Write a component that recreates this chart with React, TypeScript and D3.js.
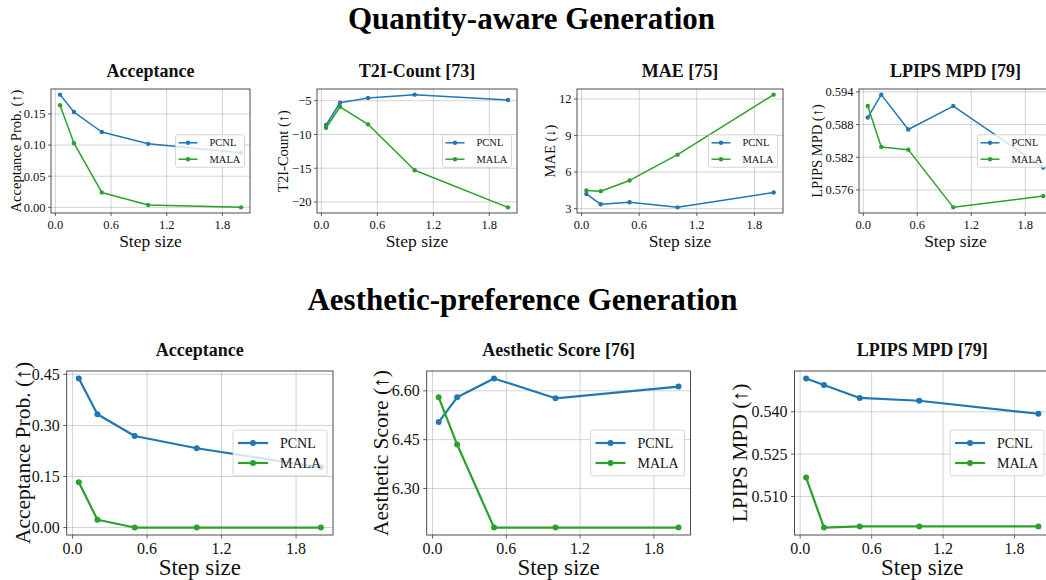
import React from 'react';
import * as d3 from 'd3';

const FONT = '"Liberation Serif", "Times New Roman", Times, serif';
const BLUE = '#1f77b4';
const GREEN = '#2ca02c';

// ---- data ----
const stepSizes = [0.05, 0.2, 0.5, 1.0, 2.0];
const xTicks = [0.0, 0.6, 1.2, 1.8];
const seriesNames = ['PCNL', 'MALA'];

const accQ_PCNL = [0.181, 0.153, 0.121, 0.102, 0.0876];
const accQ_MALA = [0.164, 0.103, 0.024, 0.0037, 0.0];
const accQ_ticks = [0.0, 0.05, 0.1, 0.15];

const t2i_PCNL = [-8.6, -5.3, -4.6, -4.1, -4.9];
const t2i_MALA = [-9.0, -5.9, -8.5, -15.3, -20.8];
const t2i_ticks = [-20, -15, -10, -5];

const mae_PCNL = [4.2, 3.35, 3.52, 3.1, 4.32];
const mae_MALA = [4.49, 4.43, 5.31, 7.43, 12.36];
const mae_ticks = [3, 6, 9, 12];

const lpipsQ_PCNL = [0.5893, 0.5935, 0.5871, 0.5914, 0.5801];
const lpipsQ_MALA = [0.5914, 0.5839, 0.5834, 0.5728, 0.5749];
const lpipsQ_ticks = [0.576, 0.582, 0.588, 0.594];

const accA_PCNL = [0.438, 0.333, 0.269, 0.233, 0.177];
const accA_MALA = [0.133, 0.023, 0.0, 0.0, 0.0];
const accA_ticks = [0.0, 0.15, 0.3, 0.45];

const aes_PCNL = [6.504, 6.58, 6.638, 6.577, 6.613];
const aes_MALA = [6.58, 6.435, 6.18, 6.18, 6.18];
const aes_ticks = [6.3, 6.45, 6.6];

const lpipsA_PCNL = [0.5518, 0.5495, 0.5449, 0.5439, 0.5393];
const lpipsA_MALA = [0.5167, 0.499, 0.4994, 0.4994, 0.4994];
const lpipsA_ticks = [0.51, 0.525, 0.54];

// ---- row styles ----
const topRow = {
  top: 89, bottom: 213, tickFont: 12.5, xLabelFont: 17.5, yLabelFont: 14.5, titleFont: 18,
  lw: 1.5, r: 2.2, tickLen: 3, yTickGap: 5.5, xTickDy: 15.5, xLabelDy: 34, titleDy: -12,
  legend: { font: 10.5, w: 69, h: 32.5, pad: 3, lineLen: 19, gap: 12, rowGap: 16.4, margin: 5.5 },
};
const bottomRow = {
  top: 371, bottom: 535, tickFont: 16, xLabelFont: 23, yLabelFont: 21.5, titleFont: 18,
  lw: 2.2, r: 3, tickLen: 3.5, yTickGap: 7, xTickDy: 18.5, xLabelDy: 40, titleDy: -15,
  legend: { font: 14, w: 94, h: 45.7, pad: 5, lineLen: 30, gap: 12, rowGap: 20, margin: 6 },
};

const panels = [
  { row: topRow, left: 51, right: 250, title: 'Acceptance', ylabel: 'Acceptance Prob. (↑)', ylx: 15.5, s: [accQ_PCNL, accQ_MALA], ticks: accQ_ticks, fmt: '.2f' },
  { row: topRow, left: 317, right: 517, title: 'T2I-Count [73]', ylabel: 'T2I-Count (↑)', ylx: 283, s: [t2i_PCNL, t2i_MALA], ticks: t2i_ticks, fmt: 'd' },
  { row: topRow, left: 577, right: 783, title: 'MAE [75]', ylabel: 'MAE (↓)', ylx: 550, s: [mae_PCNL, mae_MALA], ticks: mae_ticks, fmt: 'd' },
  { row: topRow, left: 859, right: 1052, title: 'LPIPS MPD [79]', ylabel: 'LPIPS MPD (↑)', ylx: 817, s: [lpipsQ_PCNL, lpipsQ_MALA], ticks: lpipsQ_ticks, fmt: '.3f' },
  { row: bottomRow, left: 66.7, right: 333, title: 'Acceptance', ylabel: 'Acceptance Prob. (↑)', ylx: 22, s: [accA_PCNL, accA_MALA], ticks: accA_ticks, fmt: '.2f' },
  { row: bottomRow, left: 426.7, right: 690.5, title: 'Aesthetic Score [76]', ylabel: 'Aesthetic Score (↑)', ylx: 380, s: [aes_PCNL, aes_MALA], ticks: aes_ticks, fmt: '.2f' },
  { row: bottomRow, left: 794.5, right: 1050, title: 'LPIPS MPD [79]', ylabel: 'LPIPS MPD (↑)', ylx: 739, s: [lpipsA_PCNL, lpipsA_MALA], ticks: lpipsA_ticks, fmt: '.3f' },
];

const colors = [BLUE, GREEN];

function padDomain(vals: number[]): [number, number] {
  const [lo, hi] = d3.extent(vals) as [number, number];
  const m = (hi - lo) * 0.05;
  return [lo - m, hi + m];
}

function Panel({ p }: { p: any }) {
  const R = p.row;
  const x = d3.scaleLinear().domain(padDomain(stepSizes)).range([p.left, p.right]);
  const y = d3.scaleLinear().domain(padDomain([...p.s[0], ...p.s[1]])).range([R.bottom, R.top]);
  const fmt = d3.format(p.fmt);
  const line = d3.line<number>().x((_, i) => x(stepSizes[i])).y((d) => y(d));
  const cx = (p.left + p.right) / 2;
  const cy = (R.top + R.bottom) / 2;
  const L = R.legend;
  const lx = p.right - L.margin - L.w;
  const ly = cy - L.h / 2;
  const clipId = `clip-${Math.round(p.left)}`;
  return (
    <g>
      <defs>
        <clipPath id={clipId}>
          <rect x={p.left} y={R.top} width={p.right - p.left} height={R.bottom - R.top} />
        </clipPath>
      </defs>
      {/* grid */}
      <g stroke="#b0b0b0" strokeOpacity={0.7} strokeWidth={0.8}>
        {xTicks.map((t) => (
          <line key={'gx' + t} x1={x(t)} x2={x(t)} y1={R.top} y2={R.bottom} />
        ))}
        {p.ticks.map((t: number) => (
          <line key={'gy' + t} x1={p.left} x2={p.right} y1={y(t)} y2={y(t)} />
        ))}
      </g>
      {/* series */}
      <g clipPath={`url(#${clipId})`}>
        {p.s.map((vals: number[], k: number) => (
          <g key={k}>
            <path d={line(vals) || ''} fill="none" stroke={colors[k]} strokeWidth={R.lw} strokeLinejoin="round" strokeLinecap="round" />
            {vals.map((v, i) => (
              <circle key={i} cx={x(stepSizes[i])} cy={y(v)} r={R.r} fill={colors[k]} />
            ))}
          </g>
        ))}
      </g>
      {/* spines */}
      <rect x={p.left} y={R.top} width={p.right - p.left} height={R.bottom - R.top} fill="none" stroke="#3a3a3a" strokeWidth={0.9} />
      {/* x ticks */}
      {xTicks.map((t) => (
        <g key={'xt' + t}>
          <line x1={x(t)} x2={x(t)} y1={R.bottom} y2={R.bottom + R.tickLen} stroke="#3a3a3a" strokeWidth={0.8} />
          <text x={x(t)} y={R.bottom + R.xTickDy} textAnchor="middle" fontSize={R.tickFont} fontFamily={FONT} fill="#111">
            {d3.format('.1f')(t)}
          </text>
        </g>
      ))}
      {/* y ticks */}
      {p.ticks.map((t: number) => (
        <g key={'yt' + t}>
          <line x1={p.left - R.tickLen} x2={p.left} y1={y(t)} y2={y(t)} stroke="#3a3a3a" strokeWidth={0.8} />
          <text x={p.left - R.yTickGap} y={y(t)} dy="0.35em" textAnchor="end" fontSize={R.tickFont} fontFamily={FONT} fill="#111">
            {fmt(t)}
          </text>
        </g>
      ))}
      {/* labels */}
      <text x={cx} y={R.bottom + R.xLabelDy} textAnchor="middle" fontSize={R.xLabelFont} fontFamily={FONT} fill="#111">
        Step size
      </text>
      <text transform={`translate(${p.ylx},${cy}) rotate(-90)`} dy="0.35em" textAnchor="middle" fontSize={R.yLabelFont} fontFamily={FONT} fill="#111">
        {p.ylabel}
      </text>
      <text x={cx} y={R.top + R.titleDy} textAnchor="middle" fontSize={R.titleFont} fontWeight="bold" fontFamily={FONT} fill="#111">
        {p.title}
      </text>
      {/* legend */}
      <g>
        <rect x={lx} y={ly} width={L.w} height={L.h} rx={2} fill="#fff" fillOpacity={0.8} stroke="#cccccc" strokeWidth={0.8} />
        {seriesNames.map((name, k) => {
          const ry = ly + L.h / 2 + (k - 0.5) * L.rowGap;
          return (
            <g key={name}>
              <line x1={lx + L.pad} x2={lx + L.pad + L.lineLen} y1={ry} y2={ry} stroke={colors[k]} strokeWidth={R.lw} />
              <circle cx={lx + L.pad + L.lineLen / 2} cy={ry} r={R.r} fill={colors[k]} />
              <text x={lx + L.pad + L.lineLen + L.gap} y={ry} dy="0.35em" fontSize={L.font} fontFamily={FONT} fill="#111">
                {name}
              </text>
            </g>
          );
        })}
      </g>
    </g>
  );
}

export default function App() {
  return (
    <div style={{ position: 'absolute', left: 0, top: 0 }}>
      <svg width={1046} height={580} style={{ display: 'block', background: '#fff' }}>
        <text x={531.5} y={29} textAnchor="middle" fontSize={31} fontWeight="bold" fontFamily={FONT} fill="#000">
          Quantity-aware Generation
        </text>
        <text x={522.5} y={310} textAnchor="middle" fontSize={31} fontWeight="bold" fontFamily={FONT} fill="#000">
          Aesthetic-preference Generation
        </text>
        {panels.map((p, i) => (
          <Panel key={i} p={p} />
        ))}
      </svg>
    </div>
  );
}
